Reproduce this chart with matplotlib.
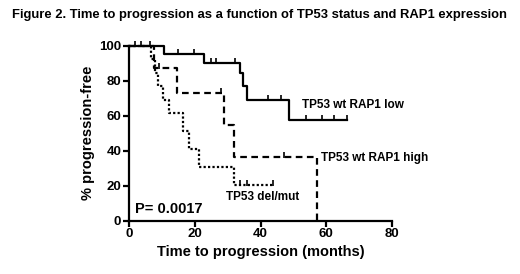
import numpy as np
import matplotlib.pyplot as plt

plt.rcParams['font.family'] = ['Liberation Sans', 'DejaVu Sans']
plt.rcParams['font.weight'] = 'bold'

# TP53 wt RAP1 low (solid)
low_t = [0, 10.7, 22.9, 33.7, 34.8, 36.0, 48.7, 66.3]
low_s = [100, 95.2, 90.4, 84.6, 76.9, 69.2, 57.7, 57.7]
low_cens_t = [1.7, 3.8, 6.3, 14.9, 19.7, 24.9, 26.6, 32.2, 42.2, 46.1, 53.8, 58.7, 62.2, 66.3]
low_cens_s = [100, 100, 100, 95.2, 95.2, 90.4, 90.4, 90.4, 69.2, 69.2, 57.7, 57.7, 57.7, 57.7]

# TP53 wt RAP1 high (dashed)
high_t = [0, 7.5, 14.7, 28.9, 32.0, 57.1]
high_s = [100, 87.5, 72.9, 54.7, 36.5, 0]
high_cens_t = [9.0, 28.0, 47.0]
high_cens_s = [87.5, 72.9, 36.5]

# TP53 del/mut (dotted)
mut_t = [0, 6.8, 7.8, 8.8, 10.3, 12.3, 16.3, 18.3, 21.3, 31.8, 43.9]
mut_s = [100, 92.3, 84.6, 76.9, 69.2, 61.5, 51.3, 41.0, 30.8, 20.5, 20.5]
mut_cens_t = [33.8, 35.8, 43.9]
mut_cens_s = [20.5, 20.5, 20.5]

fig = plt.figure(figsize=(5.2, 2.74), dpi=100)
ax = fig.add_axes([0.248, 0.194, 0.506, 0.639])

lw = 1.6
ax.step(low_t, low_s, where='post', color='black', lw=lw, clip_on=False)
ax.step(high_t, high_s, where='post', color='black', lw=lw, linestyle=(0, (3, 2)), clip_on=False)
ax.step(mut_t, mut_s, where='post', color='black', lw=lw, linestyle=(0, (1, 1)), clip_on=False)

for t, s in [(low_cens_t, low_cens_s), (high_cens_t, high_cens_s), (mut_cens_t, mut_cens_s)]:
    ax.plot(t, np.array(s) + 1.0, linestyle='none', marker='|', color='black',
            markersize=4, markeredgewidth=1.2, clip_on=False)

ax.set_xlim(0, 80)
ax.set_ylim(0, 100)
ax.set_xticks([0, 20, 40, 60, 80])
ax.set_yticks([0, 20, 40, 60, 80, 100])
for sp in ['top', 'right']:
    ax.spines[sp].set_visible(False)
for sp in ['left', 'bottom']:
    ax.spines[sp].set_linewidth(1.6)
ax.tick_params(width=1.6, length=4, labelsize=9.5, pad=1.5)
for lab in ax.get_xticklabels() + ax.get_yticklabels():
    lab.set_fontweight('bold')

ax.set_xlabel('Time to progression (months)', fontsize=10.5, fontweight='bold', labelpad=3)
ax.set_ylabel('% progression-free', fontsize=10.5, fontweight='bold', labelpad=3)

ax.text(52.5, 66, 'TP53 wt RAP1 low', fontsize=8.5, fontweight='bold', va='center')
ax.text(58.5, 36, 'TP53 wt RAP1 high', fontsize=8.5, fontweight='bold', va='center')
ax.text(29.5, 13.5, 'TP53 del/mut', fontsize=8.5, fontweight='bold', va='center')
ax.text(1.8, 7, 'P= 0.0017', fontsize=10.5, fontweight='bold', va='center')

fig.text(0.024, 0.945, 'Figure 2. Time to progression as a function of TP53 status and RAP1 expression',
         fontsize=9.4, fontweight='bold', va='center', ha='left')

fig.savefig('out.png', dpi=100)
